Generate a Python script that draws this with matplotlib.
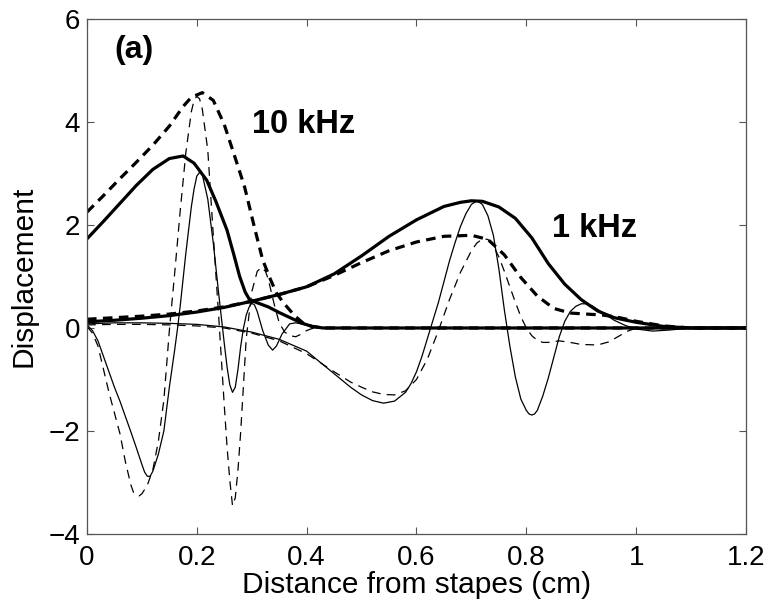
import matplotlib
matplotlib.use("Agg")
import matplotlib.pyplot as plt

# 10 kHz envelopes (thick lines)
env10_x = [0, 0.03, 0.06, 0.09, 0.12, 0.15, 0.175, 0.195, 0.218, 0.235, 0.255, 0.268, 0.278,
           0.288, 0.296, 0.31, 0.33, 0.35, 0.37, 0.39, 0.41, 0.43, 0.6, 0.9, 1.2]
env10_solid = [1.73, 2.07, 2.42, 2.77, 3.08, 3.29, 3.34, 3.2, 2.87, 2.45, 1.9, 1.4, 1.0,
               0.7, 0.55, 0.49, 0.41, 0.3, 0.2, 0.1, 0.03, 0, 0, 0, 0]

env10d_x = [0, 0.03, 0.06, 0.09, 0.12, 0.15, 0.175, 0.19, 0.21, 0.23, 0.25, 0.27, 0.287,
            0.305, 0.32, 0.335, 0.345, 0.357, 0.369, 0.38, 0.393, 0.41, 0.43, 1.2]
env10_dashed = [2.25, 2.57, 2.9, 3.22, 3.55, 3.92, 4.3, 4.48, 4.57, 4.42, 3.95, 3.3, 2.74,
                1.95, 1.32, 0.92, 0.68, 0.5, 0.35, 0.22, 0.1, 0.03, 0, 0]

# 10 kHz waveforms (thin lines)
wave10_x = [0, 0.01, 0.02, 0.03, 0.04, 0.05, 0.06, 0.07, 0.08, 0.09, 0.10, 0.105, 0.11,
            0.115, 0.12, 0.13, 0.14, 0.15, 0.16, 0.165, 0.17, 0.18, 0.19, 0.195, 0.20,
            0.205, 0.21, 0.22, 0.23, 0.24, 0.25, 0.255, 0.26, 0.265, 0.27, 0.275, 0.28,
            0.285, 0.29, 0.295, 0.30, 0.305, 0.31, 0.32, 0.33, 0.338, 0.345, 0.355, 0.369,
            0.38, 0.39, 0.40, 0.42, 0.45, 1.2]
wave10_solid = [0.06, -0.05, -0.25, -0.55, -0.85, -1.15, -1.42, -1.72, -2.02, -2.33, -2.65,
                -2.8, -2.88, -2.88, -2.78, -2.45, -2.0, -1.15, -0.4, 0.0, 0.45, 1.45, 2.35,
                2.7, 2.95, 3.02, 2.98, 2.5, 1.65, 0.65, -0.3, -0.75, -1.1, -1.25, -1.15,
                -0.8, -0.35, 0.0, 0.25, 0.4, 0.48, 0.45, 0.32, -0.05, -0.33, -0.43, -0.35,
                -0.12, 0.08, 0.1, 0.08, 0.05, 0.01, 0, 0]

wave10d_x = [0, 0.01, 0.02, 0.03, 0.04, 0.05, 0.06, 0.07, 0.08, 0.085, 0.09, 0.095, 0.10,
             0.11, 0.12, 0.13, 0.14, 0.15, 0.16, 0.17, 0.18, 0.19, 0.195, 0.20, 0.205,
             0.21, 0.22, 0.23, 0.24, 0.25, 0.255, 0.26, 0.265, 0.27, 0.275, 0.28, 0.285,
             0.29, 0.30, 0.31, 0.318, 0.325, 0.33, 0.34, 0.35, 0.36, 0.37, 0.38, 0.39,
             0.40, 0.41, 0.42, 1.2]
wave10_dashed = [0.03, -0.1, -0.35, -0.8, -1.25, -1.65, -2.05, -2.6, -3.05, -3.2, -3.25,
                 -3.26, -3.22, -3.05, -2.75, -2.2, -1.4, -0.05, 1.1, 2.3, 3.4, 4.2, 4.42,
                 4.5, 4.45, 4.25, 3.45, 1.8, 0.2, -1.5, -2.3, -2.95, -3.45, -3.3, -2.75,
                 -2.0, -1.1, -0.2, 0.7, 1.1, 1.18, 1.1, 0.95, 0.5, 0.1, -0.08, -0.15, -0.17,
                 -0.12, -0.05, -0.01, 0, 0]

# 1 kHz envelopes (thick lines)
env1_x = [0, 0.05, 0.1, 0.15, 0.2, 0.25, 0.3, 0.35, 0.4, 0.45, 0.5, 0.55, 0.6, 0.65, 0.68,
          0.7, 0.72, 0.75, 0.78, 0.81, 0.84, 0.87, 0.9, 0.93, 0.96, 1.0, 1.05, 1.1, 1.2]
env1_solid = [0.12, 0.15, 0.19, 0.24, 0.31, 0.4, 0.52, 0.65, 0.8, 1.05, 1.4, 1.78, 2.1,
              2.36, 2.44, 2.47, 2.46, 2.35, 2.13, 1.75, 1.25, 0.85, 0.55, 0.33, 0.2, 0.11,
              0.03, 0.0, 0]

env1d_x = [0, 0.05, 0.1, 0.15, 0.2, 0.25, 0.3, 0.35, 0.4, 0.45, 0.5, 0.55, 0.6, 0.65, 0.7,
           0.73, 0.76, 0.79, 0.82, 0.85, 0.88, 0.91, 0.94, 0.97, 1.0, 1.05, 1.1, 1.2]
env1_dashed = [0.17, 0.2, 0.23, 0.27, 0.33, 0.41, 0.52, 0.65, 0.8, 1.02, 1.27, 1.5, 1.67,
               1.78, 1.8, 1.72, 1.42, 0.98, 0.62, 0.38, 0.29, 0.27, 0.25, 0.2, 0.13, 0.04,
               0.0, 0]

# 1 kHz waveforms (thin lines)
wave1_x = [0, 0.05, 0.1, 0.15, 0.2, 0.25, 0.3, 0.35, 0.4, 0.44, 0.48, 0.5, 0.52, 0.54, 0.56,
           0.58, 0.59, 0.6, 0.61, 0.62, 0.63, 0.64, 0.65, 0.66, 0.67, 0.68, 0.69, 0.7,
           0.71, 0.72, 0.73, 0.74, 0.75, 0.76, 0.77, 0.78, 0.79, 0.8, 0.805, 0.81, 0.815,
           0.82, 0.83, 0.84, 0.85, 0.86, 0.87, 0.88, 0.89, 0.9, 0.91, 0.92, 0.94, 0.96,
           0.98, 1.0, 1.03, 1.06, 1.1, 1.2]
wave1_solid = [0.08, 0.1, 0.1, 0.09, 0.07, 0.02, -0.08, -0.22, -0.45, -0.8, -1.15, -1.3,
               -1.41, -1.46, -1.42, -1.25, -1.08, -0.85, -0.55, -0.2, 0.15, 0.5, 0.9, 1.3,
               1.65, 1.97, 2.22, 2.4, 2.47, 2.4, 2.18, 1.8, 1.15, 0.35, -0.35, -0.95, -1.38,
               -1.6, -1.67, -1.69, -1.67, -1.6, -1.32, -0.97, -0.57, -0.17, 0.13, 0.32, 0.42,
               0.47, 0.47, 0.43, 0.29, 0.15, 0.05, -0.02, -0.06, -0.04, 0, 0]

wave1d_x = [0, 0.05, 0.1, 0.15, 0.2, 0.25, 0.3, 0.35, 0.4, 0.45, 0.48, 0.5, 0.52, 0.54, 0.56,
            0.58, 0.6, 0.62, 0.64, 0.66, 0.68, 0.7, 0.71, 0.72, 0.73, 0.74, 0.75, 0.76,
            0.77, 0.78, 0.79, 0.8, 0.81, 0.82, 0.83, 0.84, 0.86, 0.88, 0.9, 0.93, 0.95,
            0.97, 0.98, 1.0, 1.2]
wave1_dashed = [0.06, 0.07, 0.07, 0.06, 0.04, 0.0, -0.1, -0.25, -0.5, -0.85, -1.05, -1.15,
                -1.24, -1.29, -1.3, -1.22, -1.0, -0.6, -0.05, 0.55, 1.08, 1.5, 1.65, 1.73,
                1.72, 1.6, 1.38, 1.1, 0.8, 0.5, 0.22, 0.0, -0.15, -0.24, -0.28, -0.28, -0.25,
                -0.28, -0.32, -0.33, -0.27, -0.15, -0.08, 0, 0]

xticks = [0, 0.2, 0.4, 0.6, 0.8, 1, 1.2]
xtick_labels = ["0", "0.2", "0.4", "0.6", "0.8", "1", "1.2"]
yticks = [-4, -2, 0, 2, 4, 6]

plt.rcParams['font.family'] = ['Liberation Sans', 'DejaVu Sans']

fig = plt.figure(figsize=(7.69, 6.07), dpi=100)
ax = fig.add_axes([0.1131, 0.1203, 0.857, 0.8484])

thick = 2.3
thin = 0.9
ax.plot(wave10_x, wave10_solid, color='black', lw=thin)
ax.plot(wave10d_x, wave10_dashed, color='black', lw=thin, dashes=(7, 5))
ax.plot(wave1_x, wave1_solid, color='black', lw=thin)
ax.plot(wave1d_x, wave1_dashed, color='black', lw=thin, dashes=(7, 5))
ax.plot(env10_x, env10_solid, color='black', lw=thick)
ax.plot(env10d_x, env10_dashed, color='black', lw=thick, dashes=(3, 2))
ax.plot(env1_x, env1_solid, color='black', lw=thick)
ax.plot(env1d_x, env1_dashed, color='black', lw=thick, dashes=(3, 2))

ax.text(0.05, 5.39, "(a)", fontsize=23, fontweight='bold', ha='left', va='center')
ax.text(0.30, 3.96, "10 kHz", fontsize=23.5, fontweight='bold', ha='left', va='center')
ax.text(0.847, 1.94, "1 kHz", fontsize=23.5, fontweight='bold', ha='left', va='center')

ax.set_xlim(0, 1.2)
ax.set_ylim(-4, 6)
ax.set_xticks(xticks)
ax.set_xticklabels(xtick_labels)
ax.set_yticks(yticks)
ax.tick_params(direction='in', length=5, width=0.8, top=True, right=True,
               labelsize=20, color='#555555')
ax.tick_params(axis='x', pad=8)
ax.tick_params(axis='y', pad=5)
for s in ax.spines.values():
    s.set_color('#555555')
    s.set_linewidth(0.9)

ax.set_xlabel("Distance from stapes (cm)", fontsize=21.5, labelpad=0)
ax.set_ylabel("Displacement", fontsize=21.5, labelpad=8)

fig.savefig("out.png", dpi=100)
